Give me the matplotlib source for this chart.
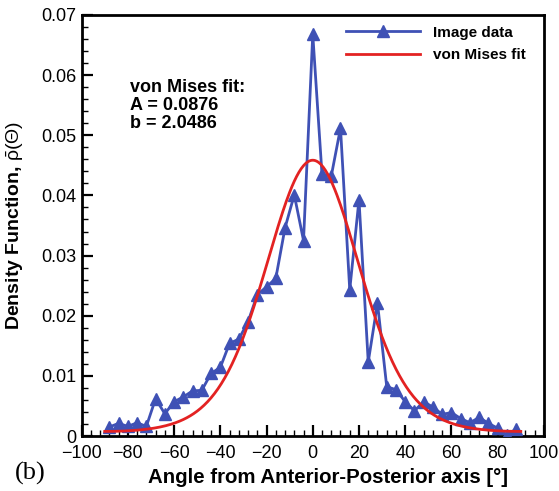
import numpy as np
import matplotlib
matplotlib.use("Agg")
import matplotlib.pyplot as plt
import matplotlib.transforms as mtransforms
from matplotlib.ticker import MultipleLocator, FuncFormatter

plt.rcParams['font.family'] = ['Liberation Sans', 'DejaVu Sans']
plt.rcParams['mathtext.fontset'] = 'custom'
plt.rcParams['mathtext.rm'] = 'Liberation Sans'
plt.rcParams['mathtext.it'] = 'Liberation Sans'

# measured orientation distribution (4 deg bins)
angles = np.arange(-88, 89, 4)
density = [0.0015, 0.0021, 0.0016, 0.0022, 0.0016, 0.0062, 0.0037, 0.0057,
           0.0065, 0.0075, 0.0076, 0.0104, 0.0114, 0.0154, 0.0161, 0.0190,
           0.0235, 0.0248, 0.0262, 0.0346, 0.0401, 0.0325, 0.0668, 0.0435,
           0.0432, 0.0512, 0.0243, 0.0393, 0.0123, 0.0221, 0.0082, 0.0077,
           0.0057, 0.0042, 0.0057, 0.0048, 0.0036, 0.0039, 0.0029, 0.0022,
           0.0031, 0.0021, 0.0013, 0.0001, 0.0012]

# von Mises fit parameters
A = 0.0876
b = 2.0486
theta = np.linspace(-90, 90, 361)
fit = A * np.exp(b * np.cos(2 * np.radians(theta))) / (2 * np.pi * np.i0(b))

fig = plt.figure(figsize=(5.59, 4.91), dpi=100)
ax = fig.add_axes([0.146, 0.112, 0.827, 0.8575])

blue = '#3F51B5'
red = '#E32222'
ax.plot(angles, density, color=blue, lw=2, marker='^', ms=9,
        markeredgecolor=blue, label='Image data', zorder=3)
ax.plot(theta, fit, color=red, lw=2, label='von Mises fit', zorder=4)

ax.set_xlim(-100, 100)
ax.set_ylim(0, 0.07)
ax.xaxis.set_major_locator(MultipleLocator(20))
ax.xaxis.set_minor_locator(MultipleLocator(4))
ax.yaxis.set_major_locator(MultipleLocator(0.01))
ax.yaxis.set_minor_locator(MultipleLocator(0.002))
ax.yaxis.set_major_formatter(FuncFormatter(lambda v, p: '0' if abs(v) < 1e-9 else '%.2f' % v))
ax.tick_params(which='both', direction='in', top=False, right=False, labelsize=13)
ax.tick_params(which='major', length=8, width=1.6)
ax.tick_params(which='minor', length=4, width=1.0)
ax.tick_params(axis='x', pad=6.5)
ax.tick_params(axis='y', pad=4)
for sp in ax.spines.values():
    sp.set_linewidth(2)

# nudge the "0" on the y axis up a little so it clears "-100"
fig.canvas.draw()
ylab0 = ax.yaxis.get_majorticklabels()[0]
ylab0.set_transform(ylab0.get_transform() +
                    mtransforms.ScaledTranslation(0, 3 / 100, fig.dpi_scale_trans))

ax.set_xlabel('Angle from Anterior-Posterior axis [°]', fontsize=14.7,
              fontweight='bold', labelpad=7)
ax.xaxis.set_label_coords(0.533, -0.075)
ax.set_ylabel(r'Density Function, $\bar{\mathrm{\rho}}(\mathrm{\Theta})$',
              fontsize=14, fontweight='bold', labelpad=11)

ax.text(-79, 0.0594, 'von Mises fit:\nA = 0.0876\nb = 2.0486', fontsize=13,
        fontweight='bold', va='top', ha='left', linespacing=1.1)

leg = ax.legend(loc='upper left', bbox_to_anchor=(0.572, 0.975), frameon=False,
                prop={'weight': 'bold', 'size': 11}, handlelength=4.85,
                handletextpad=0.85, borderpad=0, borderaxespad=0,
                labelspacing=0.55)

fig.text(0.027, 0.0224, '(b)', fontsize=19, family='Liberation Serif')

fig.savefig('out.png', dpi=100)
